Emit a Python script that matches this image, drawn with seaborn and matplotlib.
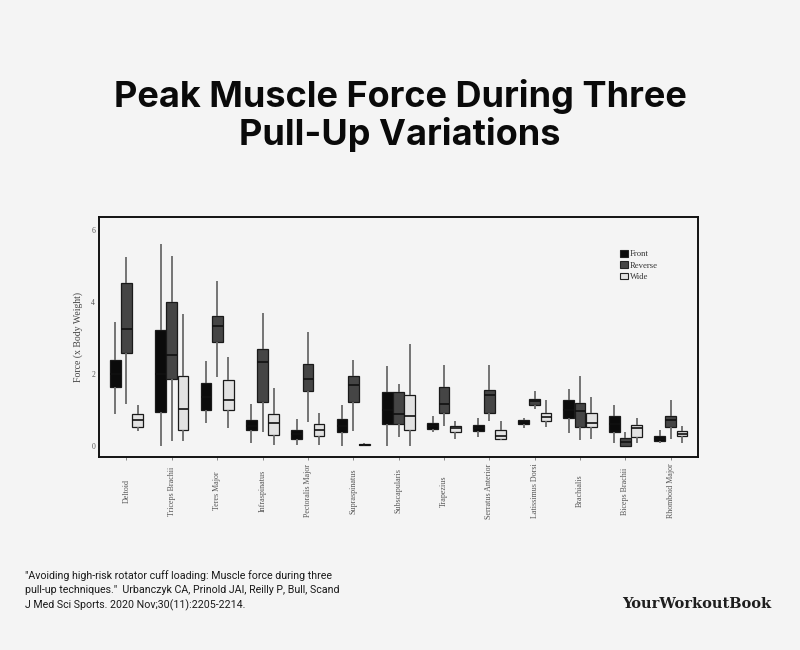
import numpy as np
import pandas as pd
import seaborn as sns
import matplotlib
matplotlib.use("Agg")
import matplotlib.pyplot as plt
from matplotlib import font_manager as fm
from matplotlib.patches import Patch

# ---------------- data (5-number summaries: min, q1, median, q3, max) -------------
muscles = ["Deltoid", "Triceps Brachii", "Teres Major", "Infraspinatus",
           "Pectoralis Major", "Supraspinatus", "Subscapularis", "Trapezius",
           "Serratus Anterior", "Latissimus Dorsi", "Brachialis",
           "Biceps Brachii", "Rhomboid Major"]
grips = ["Front", "Reverse", "Wide"]

front = [
    [0.89, 1.63, 2.00, 2.40, 3.44],
    [0.00, 0.95, 2.00, 3.23, 5.61],
    [0.63, 1.00, 1.35, 1.74, 2.36],
    [0.10, 0.44, 0.56, 0.72, 1.18],
    [0.03, 0.21, 0.34, 0.46, 0.74],
    [0.00, 0.40, 0.55, 0.74, 1.14],
    [0.00, 0.61, 1.00, 1.49, 2.23],
    [0.40, 0.48, 0.56, 0.65, 0.83],
    [0.24, 0.43, 0.50, 0.58, 0.79],
    [0.50, 0.60, 0.66, 0.72, 0.78],
    [0.37, 0.79, 1.00, 1.27, 1.58],
    [0.10, 0.38, 0.60, 0.84, 1.14],
    [0.10, 0.14, 0.20, 0.29, 0.44],
]
reverse = [
    [1.18, 2.59, 3.26, 4.51, 5.23],
    [0.15, 1.85, 2.52, 3.99, 5.26],
    [1.92, 2.88, 3.32, 3.60, 4.58],
    [0.40, 1.22, 2.32, 2.68, 3.69],
    [0.67, 1.53, 1.87, 2.29, 3.17],
    [0.43, 1.23, 1.69, 1.95, 2.38],
    [0.24, 0.61, 0.89, 1.49, 1.72],
    [0.55, 0.92, 1.16, 1.63, 2.24],
    [0.70, 0.92, 1.41, 1.55, 2.26],
    [1.02, 1.14, 1.26, 1.32, 1.52],
    [0.17, 0.52, 0.97, 1.20, 1.94],
    [0.00, 0.00, 0.12, 0.23, 0.38],
    [0.19, 0.52, 0.72, 0.84, 1.27],
]
wide = [
    [0.42, 0.54, 0.72, 0.88, 1.14],
    [0.15, 0.46, 1.02, 1.94, 3.67],
    [0.51, 1.00, 1.27, 1.83, 2.46],
    [0.03, 0.32, 0.63, 0.88, 1.60],
    [0.03, 0.29, 0.46, 0.61, 0.92],
    [0.00, 0.02, 0.04, 0.06, 0.08],
    [0.00, 0.44, 0.83, 1.43, 2.82],
    [0.21, 0.40, 0.49, 0.56, 0.70],
    [0.17, 0.21, 0.29, 0.44, 0.70],
    [0.54, 0.70, 0.81, 0.92, 1.27],
    [0.19, 0.52, 0.63, 0.91, 1.37],
    [0.10, 0.26, 0.49, 0.58, 0.79],
    [0.10, 0.28, 0.35, 0.43, 0.55],
]

title_lines = ["Peak Muscle Force During Three", "Pull-Up Variations"]
ylabel = "Force (x Body Weight)"
yticks = [0, 2, 4, 6]
citation = ("\"Avoiding high-risk rotator cuff loading: Muscle force during three\n"
            "pull-up techniques.\"  Urbanczyk CA, Prinold JAI, Reilly P, Bull, Scand\n"
            "J Med Sci Sports. 2020 Nov;30(11):2205-2214.")
brand = "YourWorkoutBook"

# ---------------- long-form table ----------------
rows = []
for g, series in zip(grips, [front, reverse, wide]):
    for m, stats in zip(muscles, series):
        for v in stats:
            rows.append({"Muscle": m, "Grip": g, "Force": v})
df = pd.DataFrame(rows)

# ---------------- fonts ----------------
names = {f.name for f in fm.fontManager.ttflist}
serif = "Liberation Serif" if "Liberation Serif" in names else "DejaVu Serif"
narrow = "Liberation Sans Narrow" if "Liberation Sans Narrow" in names else "Roboto"
title_font = "Inter" if "Inter" in names else "DejaVu Sans"

BG = "#f4f4f4"
sns.set_theme(style="white")
plt.rcParams["font.family"] = ["DejaVu Sans"]

fig = plt.figure(figsize=(8, 6.5), dpi=100, facecolor=BG)
ax = fig.add_axes([0.124, 0.297, 0.7485, 0.369])
ax.set_facecolor(BG)

palette = {"Front": "#0b0b0b", "Reverse": "#454545", "Wide": "#e2e2e2"}
sns.boxplot(data=df, x="Muscle", y="Force", hue="Grip", order=muscles,
            hue_order=grips, palette=palette, whis=(0, 100), width=0.74,
            gap=0.04, showcaps=False, linewidth=0.9, linecolor="#1a1a1a",
            whiskerprops=dict(color="#6a6a6a", linewidth=1.3),
            medianprops=dict(color="#111111", linewidth=1.2),
            saturation=1, ax=ax, legend=False)

ax.set_xlim(-0.6, 12.6)
ax.set_ylim(-0.3, 6.35)
ax.set_yticks(yticks)
ax.set_yticklabels([str(t) for t in yticks], family=serif, fontsize=5.5,
                   color="#555555")
ax.tick_params(axis="y", length=0, pad=3)
ax.set_xticks(range(len(muscles)))
ax.set_xticklabels(muscles, rotation=90, family=serif, fontsize=5.8,
                   color="#555555", va="center")
ax.tick_params(axis="x", length=2.5, width=0.6, color="#777777", pad=22,
               bottom=True)
ax.set_xlabel("")
ax.set_ylabel(ylabel, family=serif, fontsize=7, color="#444444", labelpad=6)
for s in ax.spines.values():
    s.set_visible(True)
    s.set_color("#111111")
    s.set_linewidth(1.4)

handles = [Patch(facecolor=palette[g], edgecolor="#222222", linewidth=0.8,
                 label=g) for g in grips]
ax.legend(handles=handles, loc="upper left", bbox_to_anchor=(0.862, 0.88),
          frameon=False, prop={"family": serif, "size": 6.2},
          handlelength=1.0, handleheight=0.8, handletextpad=0.2,
          labelspacing=0.35, borderpad=0, labelcolor="#333333")

fig.text(0.5, 1 - 97 / 650, title_lines[0], ha="center", va="center",
         family=title_font, fontweight="bold", fontsize=26, color="#0a0a0a")
fig.text(0.5, 1 - 134 / 650, title_lines[1], ha="center", va="center",
         family=title_font, fontweight="bold", fontsize=26, color="#0a0a0a")

fig.text(25 / 800, 1 - 570 / 650, citation, ha="left", va="top",
         family=narrow, fontsize=7.7, color="#1a1a1a", linespacing=1.5)

fig.text(697 / 800, 1 - 604 / 650, brand, ha="center", va="center",
         family="DejaVu Serif", fontweight="bold", fontsize=10.5,
         color="#1e1e1e")

fig.savefig("out.png", dpi=100, facecolor=BG)
